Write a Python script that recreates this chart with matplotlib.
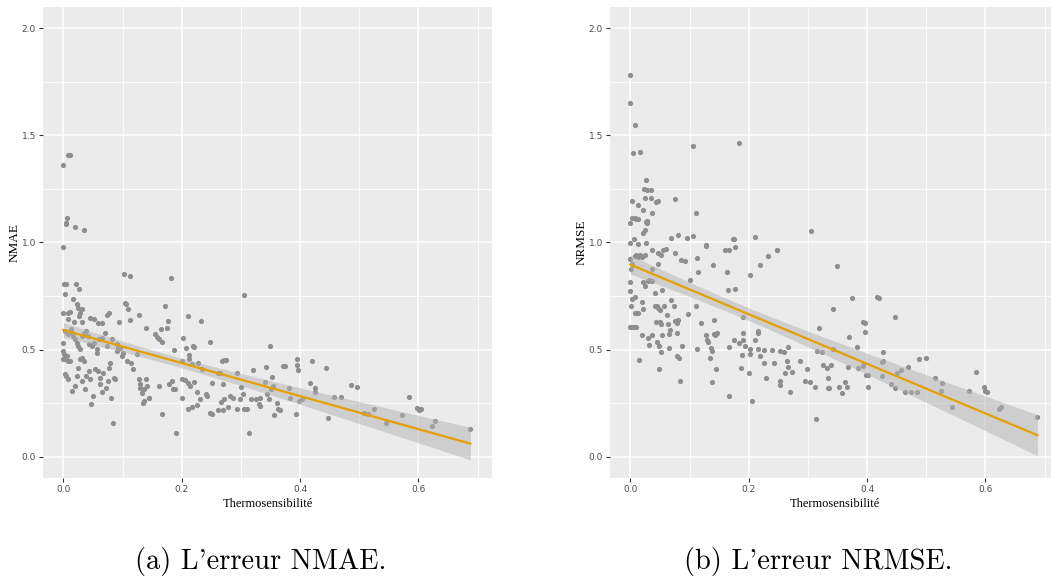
import numpy as np
import matplotlib
matplotlib.use("Agg")
import matplotlib.pyplot as plt
from matplotlib.ticker import MultipleLocator

# points, stored as (thermosensibilite, error)
nmae_pts = [
    (0.000, 1.362), (0.007, 1.410), (0.011, 1.408), (0.004, 1.085), (0.004, 1.090),
    (0.006, 1.116), (0.019, 1.072), (0.035, 1.058), (0.000, 0.977), (0.001, 0.808),
    (0.004, 0.808), (0.021, 0.808), (0.027, 0.783), (0.002, 0.758), (0.103, 0.851),
    (0.113, 0.844), (0.182, 0.833), (0.305, 0.753),
    (0.016, 0.738), (0.023, 0.713), (0.025, 0.696), (0.032, 0.691), (0.000, 0.672),
    (0.008, 0.672), (0.011, 0.677), (0.028, 0.672), (0.007, 0.644), (0.018, 0.629),
    (0.032, 0.629), (0.026, 0.657), (0.045, 0.649), (0.051, 0.641), (0.058, 0.623),
    (0.065, 0.626), (0.074, 0.660), (0.077, 0.672), (0.094, 0.629), (0.104, 0.716),
    (0.106, 0.711), (0.110, 0.688), (0.113, 0.638), (0.127, 0.662), (0.139, 0.602),
    (0.155, 0.571), (0.159, 0.560), (0.162, 0.551), (0.166, 0.535), (0.165, 0.595),
    (0.171, 0.702), (0.175, 0.602), (0.177, 0.632), (0.210, 0.657), (0.203, 0.553),
    (0.208, 0.509), (0.212, 0.475), (0.219, 0.517), (0.221, 0.512), (0.232, 0.632),
    (0.247, 0.537), (0.187, 0.500), (0.349, 0.517), (0.374, 0.423), (0.395, 0.454),
    (0.395, 0.428), (0.396, 0.404), (0.421, 0.447), (0.444, 0.413), (0.416, 0.342),
    (0.425, 0.322), (0.426, 0.302), (0.486, 0.335), (0.497, 0.325), (0.457, 0.276),
    (0.469, 0.279), (0.447, 0.179), (0.508, 0.205), (0.515, 0.199), (0.525, 0.224),
    (0.545, 0.159), (0.573, 0.193), (0.585, 0.276), (0.598, 0.225), (0.601, 0.216),
    (0.605, 0.221), (0.623, 0.145), (0.628, 0.167), (0.688, 0.128),
    (0.201, 0.447), (0.213, 0.455), (0.217, 0.431), (0.227, 0.439), (0.234, 0.411),
    (0.242, 0.283), (0.241, 0.291), (0.248, 0.205), (0.251, 0.197), (0.262, 0.216),
    (0.270, 0.216), (0.272, 0.268), (0.267, 0.255), (0.265, 0.392), (0.268, 0.447),
    (0.272, 0.450), (0.275, 0.451), (0.261, 0.389), (0.252, 0.345), (0.269, 0.338),
    (0.282, 0.283), (0.287, 0.275), (0.279, 0.233), (0.293, 0.392), (0.294, 0.224),
    (0.299, 0.268), (0.300, 0.325), (0.304, 0.291), (0.306, 0.221), (0.310, 0.224),
    (0.314, 0.111), (0.317, 0.268), (0.320, 0.405), (0.325, 0.268), (0.330, 0.244),
    (0.333, 0.236), (0.333, 0.275), (0.342, 0.417), (0.341, 0.350), (0.344, 0.291),
    (0.348, 0.271), (0.351, 0.316), (0.353, 0.370), (0.354, 0.328), (0.356, 0.193),
    (0.361, 0.252), (0.363, 0.224), (0.366, 0.218), (0.371, 0.423), (0.381, 0.322),
    (0.383, 0.275), (0.394, 0.197), (0.398, 0.260), (0.403, 0.268), (0.190, 0.112),
    (0.166, 0.197), (0.188, 0.314), (0.201, 0.361), (0.206, 0.358), (0.211, 0.345),
    (0.214, 0.330), (0.220, 0.350), (0.225, 0.300), (0.231, 0.268), (0.200, 0.275),
    (0.210, 0.224), (0.217, 0.233), (0.226, 0.241), (0.183, 0.355), (0.186, 0.314),
    (0.178, 0.338), (0.161, 0.330), (0.144, 0.275), (0.135, 0.252), (0.133, 0.299),
    (0.130, 0.322), (0.137, 0.314), (0.139, 0.361), (0.141, 0.330),
    (0.000, 0.532), (0.000, 0.493), (0.000, 0.454), (0.001, 0.477), (0.003, 0.454),
    (0.006, 0.470), (0.008, 0.447), (0.002, 0.384), (0.004, 0.376), (0.008, 0.361),
    (0.011, 0.447), (0.014, 0.307), (0.019, 0.330), (0.023, 0.376), (0.025, 0.415),
    (0.028, 0.454), (0.031, 0.462), (0.034, 0.447), (0.036, 0.314), (0.031, 0.353),
    (0.038, 0.376), (0.043, 0.400), (0.045, 0.361), (0.047, 0.244), (0.050, 0.283),
    (0.054, 0.408), (0.056, 0.486), (0.059, 0.400), (0.062, 0.338), (0.062, 0.369),
    (0.065, 0.303), (0.067, 0.392), (0.072, 0.322), (0.076, 0.353), (0.077, 0.415),
    (0.079, 0.439), (0.080, 0.275), (0.083, 0.159), (0.085, 0.369), (0.087, 0.361),
    (0.090, 0.493), (0.096, 0.509), (0.099, 0.470), (0.101, 0.486), (0.107, 0.447),
    (0.114, 0.439), (0.118, 0.408), (0.124, 0.478), (0.127, 0.361), (0.130, 0.338),
    (0.137, 0.260), (0.144, 0.275),
    (0.003, 0.587), (0.006, 0.579), (0.008, 0.571), (0.012, 0.595), (0.014, 0.579),
    (0.017, 0.563), (0.020, 0.548), (0.023, 0.532), (0.025, 0.517), (0.028, 0.501),
    (0.031, 0.563), (0.034, 0.579), (0.038, 0.587), (0.041, 0.563), (0.044, 0.524),
    (0.048, 0.517), (0.051, 0.532), (0.056, 0.501), (0.060, 0.548), (0.065, 0.556),
    (0.070, 0.579), (0.073, 0.517), (0.082, 0.548), (0.090, 0.524), (0.093, 0.509),
]

nrmse_pts = [
    (0.000, 1.782), (0.000, 1.651), (0.007, 1.547), (0.004, 1.418), (0.016, 1.421),
    (0.105, 1.452), (0.183, 1.463), (0.027, 1.292), (0.023, 1.251), (0.028, 1.243),
    (0.034, 1.243), (0.025, 1.207), (0.034, 1.207), (0.043, 1.189), (0.046, 1.192),
    (0.002, 1.192), (0.012, 1.176), (0.076, 1.201), (0.021, 1.152), (0.037, 1.138),
    (0.111, 1.138), (0.002, 1.116), (0.007, 1.113), (0.010, 1.108), (0.012, 1.110),
    (0.026, 1.097), (0.028, 1.102), (0.028, 1.090), (0.000, 1.090), (0.021, 1.046),
    (0.025, 1.057), (0.000, 0.997), (0.012, 0.991), (0.027, 0.997), (0.006, 1.015),
    (0.068, 1.023), (0.080, 1.037), (0.096, 1.023), (0.106, 1.032), (0.173, 1.015),
    (0.175, 1.015), (0.127, 0.988), (0.177, 0.979), (0.211, 1.026), (0.247, 0.967),
    (0.306, 1.052), (0.036, 0.967), (0.047, 0.949), (0.052, 0.943), (0.055, 0.965),
    (0.061, 0.968), (0.000, 0.923), (0.007, 0.937), (0.010, 0.941), (0.013, 0.932),
    (0.017, 0.940), (0.019, 0.934), (0.025, 0.940), (0.001, 0.878), (0.002, 0.898),
    (0.047, 0.901), (0.075, 0.952), (0.086, 0.919), (0.093, 0.914), (0.101, 0.823),
    (0.113, 0.928), (0.139, 0.893), (0.115, 0.863), (0.127, 0.983), (0.167, 0.965),
    (0.160, 0.965), (0.163, 0.862), (0.176, 0.784), (0.165, 0.778), (0.202, 0.849),
    (0.219, 0.896), (0.232, 0.935), (0.247, 0.967), (0.349, 0.889), (0.375, 0.742),
    (0.417, 0.747), (0.421, 0.739), (0.448, 0.652), (0.394, 0.630), (0.396, 0.625),
    (0.396, 0.582), (0.342, 0.688), (0.369, 0.557), (0.383, 0.513), (0.367, 0.417),
    (0.427, 0.487), (0.425, 0.440), (0.427, 0.445), (0.426, 0.377), (0.441, 0.338),
    (0.447, 0.319), (0.450, 0.389), (0.458, 0.405), (0.464, 0.300), (0.470, 0.420),
    (0.474, 0.302), (0.487, 0.454), (0.499, 0.461), (0.485, 0.302), (0.515, 0.367),
    (0.525, 0.307), (0.527, 0.343), (0.544, 0.233), (0.572, 0.307), (0.585, 0.397),
    (0.597, 0.325), (0.600, 0.307), (0.603, 0.302), (0.623, 0.224), (0.627, 0.233),
    (0.688, 0.187), (0.314, 0.177), (0.401, 0.325), (0.394, 0.429), (0.394, 0.422),
    (0.399, 0.383), (0.384, 0.414), (0.401, 0.380),
    (0.000, 0.816), (0.000, 0.773), (0.002, 0.738), (0.001, 0.703), (0.010, 0.672),
    (0.012, 0.672), (0.008, 0.672), (0.000, 0.607), (0.004, 0.607), (0.010, 0.607),
    (0.008, 0.745), (0.019, 0.722), (0.021, 0.688), (0.022, 0.816), (0.025, 0.798),
    (0.029, 0.821), (0.032, 0.826), (0.036, 0.876), (0.037, 0.820), (0.042, 0.762),
    (0.042, 0.705), (0.045, 0.702), (0.047, 0.696), (0.050, 0.686), (0.053, 0.776),
    (0.056, 0.705), (0.062, 0.663), (0.064, 0.621), (0.067, 0.593), (0.069, 0.733),
    (0.066, 0.571), (0.065, 0.507), (0.073, 0.705), (0.076, 0.635), (0.079, 0.624),
    (0.081, 0.638), (0.079, 0.579), (0.079, 0.470), (0.082, 0.459), (0.084, 0.352),
    (0.087, 0.518), (0.020, 0.566), (0.030, 0.554), (0.032, 0.523), (0.036, 0.566),
    (0.044, 0.630), (0.050, 0.630), (0.052, 0.619), (0.045, 0.537), (0.048, 0.518),
    (0.051, 0.490), (0.053, 0.568), (0.048, 0.408), (0.014, 0.452),
    (0.098, 0.667), (0.111, 0.701), (0.112, 0.501), (0.119, 0.625), (0.128, 0.566),
    (0.130, 0.544), (0.132, 0.535), (0.135, 0.462), (0.136, 0.509), (0.138, 0.347),
    (0.141, 0.574), (0.141, 0.636), (0.138, 0.493), (0.143, 0.566), (0.145, 0.408),
    (0.146, 0.576), (0.166, 0.512), (0.167, 0.283), (0.175, 0.543), (0.184, 0.529),
    (0.188, 0.473), (0.190, 0.577), (0.191, 0.543), (0.191, 0.654), (0.187, 0.416),
    (0.194, 0.515), (0.200, 0.388), (0.203, 0.501), (0.205, 0.260), (0.203, 0.480),
    (0.211, 0.543), (0.215, 0.585), (0.216, 0.577), (0.216, 0.501), (0.219, 0.470),
    (0.225, 0.439), (0.226, 0.498), (0.229, 0.367), (0.239, 0.498), (0.242, 0.436),
    (0.253, 0.335), (0.253, 0.355), (0.253, 0.493), (0.259, 0.488), (0.262, 0.392),
    (0.264, 0.445), (0.266, 0.512), (0.267, 0.420), (0.270, 0.302), (0.273, 0.397),
    (0.287, 0.445), (0.295, 0.355), (0.298, 0.409), (0.304, 0.349), (0.312, 0.327),
    (0.315, 0.493), (0.319, 0.599), (0.324, 0.490), (0.325, 0.429), (0.332, 0.413),
    (0.334, 0.367), (0.335, 0.320), (0.334, 0.320), (0.339, 0.429), (0.342, 0.501),
    (0.353, 0.325), (0.357, 0.299), (0.363, 0.350), (0.366, 0.325),
]


def ols_band(x, y, grid):
    # straight line fit with a 95% band, as geom_smooth(method = "lm")
    n = len(x)
    slope, icept = np.polyfit(x, y, 1)
    resid = y - (icept + slope * x)
    s = np.sqrt(np.sum(resid ** 2) / (n - 2))
    sxx = np.sum((x - x.mean()) ** 2)
    se = s * np.sqrt(1.0 / n + (grid - x.mean()) ** 2 / sxx)
    fit = icept + slope * grid
    return fit, fit - 1.97 * se, fit + 1.97 * se


plt.rcParams['font.family'] = ['DejaVu Sans']
fig = plt.figure(figsize=(10.51, 5.80), dpi=100)

panels = [
    (nmae_pts, 'NMAE', "(a) L'erreur NMAE.", [43 / 1051, 0.1759, 449 / 1051, 0.8121], 261),
    (nrmse_pts, 'NRMSE', "(b) L'erreur NRMSE.", [610 / 1051, 0.1759, 449 / 1051, 0.8121], 818),
]

for pts, ylab, caption, pos, cap_x in panels:
    ax = fig.add_axes(pos)
    ax.set_facecolor('#EBEBEB')
    for sp in ax.spines.values():
        sp.set_visible(False)
    x = np.array([p[0] for p in pts])
    y = np.array([p[1] for p in pts])

    ax.scatter(x, y, s=14, color='#8E8E8E', linewidths=0, zorder=3)
    grid = np.linspace(x.min(), x.max(), 200)
    fit, lo, hi = ols_band(x, y, grid)
    ax.fill_between(grid, lo, hi, color='#B3B3B3', alpha=0.5, linewidth=0, zorder=4)
    ax.plot(grid, fit, color='#E69F00', lw=1.6, zorder=5)

    ax.set_xlim(-0.0345, 0.7245)
    ax.set_ylim(-0.1, 2.1)
    ax.xaxis.set_major_locator(MultipleLocator(0.2))
    ax.xaxis.set_minor_locator(MultipleLocator(0.1))
    ax.yaxis.set_major_locator(MultipleLocator(0.5))
    ax.yaxis.set_minor_locator(MultipleLocator(0.25))
    ax.grid(which='major', color='white', lw=1.1, zorder=0)
    ax.grid(which='minor', color='white', lw=0.55, zorder=0)
    ax.set_axisbelow(True)
    ax.tick_params(which='major', length=3, width=0.8, color='#333333',
                   labelsize=6.5, labelcolor='#4D4D4D', pad=2)
    ax.tick_params(which='minor', length=0)
    ax.xaxis.set_major_formatter(plt.FuncFormatter(lambda v, p: f'{v:.1f}'))
    ax.yaxis.set_major_formatter(plt.FuncFormatter(lambda v, p: f'{v:.1f}'))
    ax.set_xlabel('Thermosensibilité', family='Liberation Serif', fontsize=9, labelpad=3)
    ax.set_ylabel(ylab, family='Liberation Serif', fontsize=9.5, labelpad=1)

    fig.text(cap_x / 1051, 1 - 561 / 580, caption, family='cmr10', fontsize=20.5,
             ha='center', va='center')

fig.savefig('out.png', dpi=100)
